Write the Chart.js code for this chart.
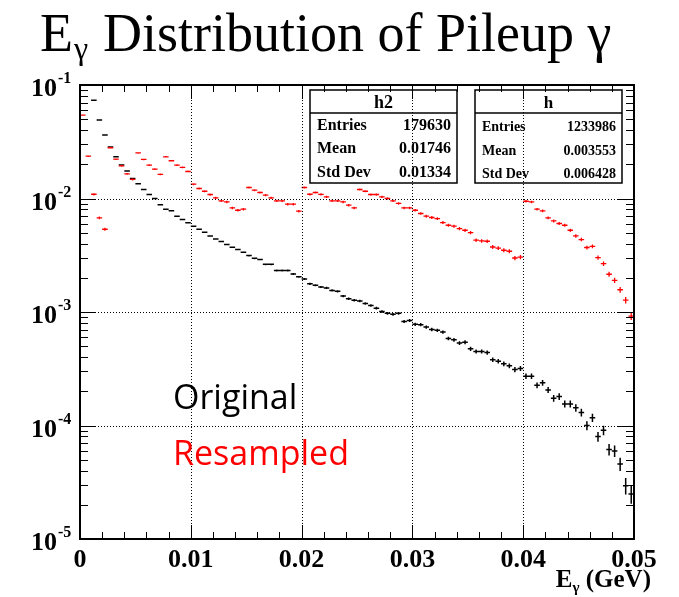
<!DOCTYPE html>
<html>
<head>
<meta charset="utf-8">
<script src="https://cdn.jsdelivr.net/npm/chart.js@4.4.0/dist/chart.umd.min.js"></script>
<style>
  html, body { margin: 0; padding: 0; background: #fff; }
</style>
</head>
<body>
<canvas id="myChart" width="679" height="597"></canvas>
<script>
// binning: 100 bins of 0.0005 GeV from 0 to 0.05
const binWidth = 0.0005;
const binEdges = Array.from({ length: 101 }, (_, i) => +(i * binWidth).toFixed(4));

// "h" - original pileup photons (first two bins run off the top of the frame)
const original = [
  0.30, 0.18, 0.0733, 0.0491, 0.0362, 0.0285, 0.0233, 0.0197, 0.0175, 0.0150,
  0.01346, 0.0120, 0.01084, 0.0100, 0.00881, 0.00805, 0.00778, 0.00698, 0.00653, 0.00611,
  0.00570, 0.00536, 0.00505, 0.00468, 0.00440, 0.00417, 0.00393, 0.00372, 0.00355, 0.00336,
  0.00314, 0.00297, 0.00290, 0.00263, 0.00263, 0.00232, 0.00232, 0.00232, 0.00216, 0.00204,
  0.00195, 0.00177, 0.00172, 0.00166, 0.00163, 0.00155, 0.00152, 0.00138, 0.00131, 0.00127,
  0.00125, 0.00119, 0.00114, 0.00108, 0.00101, 0.000973, 0.000953, 0.000973, 0.000826, 0.000843,
  0.000778, 0.000773, 0.000736, 0.000702, 0.000689, 0.000665, 0.000585, 0.000569, 0.000532, 0.000542,
  0.000474, 0.000449, 0.000449, 0.000440, 0.000380, 0.000369, 0.000350, 0.000336, 0.000311, 0.000318,
  0.000272, 0.000272, 0.000226, 0.000238, 0.000206, 0.000174, 0.000180, 0.000155, 0.000155, 0.000143,
  0.000130, 0.0000998, 0.000117, 0.0000798, 0.0000908, 0.0000615, 0.0000597, 0.0000458, 0.0000295, 0.0000249
];

// "h2" - resampled
const resampled = [
  0.0543, 0.0236, 0.0109, 0.00675, 0.00536, 0.0280, 0.0222, 0.0194, 0.01648, 0.01472,
  0.0252, 0.0221, 0.0197, 0.01815, 0.0163, 0.0233, 0.0215, 0.0197, 0.0188, 0.0173,
  0.01337, 0.01225, 0.01159, 0.01084, 0.01012, 0.00953, 0.00933, 0.00826, 0.00788, 0.00805,
  0.0125, 0.01183, 0.01130, 0.01069, 0.01012, 0.00953, 0.00953, 0.00891, 0.00891, 0.00773,
  0.0125, 0.0109, 0.0113, 0.01086, 0.01033, 0.00953, 0.00953, 0.00933, 0.00873, 0.00826,
  0.0120, 0.01159, 0.01084, 0.01084, 0.01033, 0.0100, 0.00953, 0.00904, 0.00826, 0.00826,
  0.00788, 0.00738, 0.00698, 0.00680, 0.00666, 0.00614, 0.00581, 0.00570, 0.00543, 0.00525,
  0.00501, 0.00429, 0.00423, 0.00420, 0.00374, 0.00366, 0.00350, 0.00343, 0.00299, 0.00305,
  0.00946, 0.00933, 0.00805, 0.00778, 0.00675, 0.00634, 0.00602, 0.00581, 0.00525, 0.00468,
  0.00435, 0.00370, 0.00379, 0.00301, 0.00267, 0.00215, 0.00190, 0.00157, 0.00127, 0.00092
];

// stat boxes
const statNames = ['h2', 'h'];
const statEntries = [179630, 1233986];
const statMeans = ['0.01746', '0.003553'];
const statStdDevs = ['0.01334', '0.006428'];

// axes
const xTicks = [0, 0.01, 0.02, 0.03, 0.04, 0.05];
const xTickLabels = ['0', '0.01', '0.02', '0.03', '0.04', '0.05'];
const yTickExps = [-1, -2, -3, -4, -5];

const seriesNames = ['Original', 'Resampled'];

// each bin: a horizontal bar across the bin plus a vertical error bar, gaps between
function histPoints(vals, entries) {
  const pts = [];
  vals.forEach((v, i) => {
    const lo = binEdges[i], hi = binEdges[i + 1], c = (lo + hi) / 2;
    const err = Math.sqrt(v / entries);
    pts.push({ x: lo, y: v }, { x: hi, y: v }, { x: c, y: null });
    pts.push({ x: c, y: v - err }, { x: c, y: v + err }, { x: c, y: null });
  });
  return pts;
}

const serif = '"Liberation Serif", "Times New Roman", serif';

const decorations = {
  id: 'decorations',
  afterDatasetsDraw(chart) {
    const { ctx, chartArea: a, scales: { x, y } } = chart;
    ctx.save();

    // stat boxes
    const boxes = [
      { l: 310, r: 457, t: 90, b: 183, sep: 113, head: 18, size: 16, rows: [130, 153, 176.5] },
      { l: 475, r: 622, t: 90, b: 183, sep: 113, head: 17, size: 14, rows: [131, 154.5, 177.5] }
    ];
    boxes.forEach((bx, k) => {
      ctx.fillStyle = '#fff';
      ctx.fillRect(bx.l, bx.t, bx.r - bx.l, bx.b - bx.t);
      ctx.strokeStyle = '#000';
      ctx.lineWidth = 1.5;
      ctx.strokeRect(bx.l, bx.t, bx.r - bx.l, bx.b - bx.t);
      ctx.beginPath();
      ctx.moveTo(bx.l, bx.sep); ctx.lineTo(bx.r, bx.sep);
      ctx.stroke();
      ctx.fillStyle = '#000';
      ctx.font = 'bold ' + bx.head + 'px ' + serif;
      ctx.textAlign = 'center';
      ctx.fillText(statNames[k], (bx.l + bx.r) / 2, 108);
      ctx.font = 'bold ' + bx.size + 'px ' + serif;
      const labels = ['Entries', 'Mean', 'Std Dev'];
      const vals = [String(statEntries[k]), statMeans[k], statStdDevs[k]];
      labels.forEach((lab, j) => {
        ctx.textAlign = 'left';
        ctx.fillText(lab, bx.l + 7, bx.rows[j]);
        ctx.textAlign = 'right';
        ctx.fillText(vals[j], bx.r - 6, bx.rows[j]);
      });
    });

    // dotted grid
    ctx.strokeStyle = '#000';
    ctx.lineWidth = 1;
    ctx.setLineDash([1, 2]);
    ctx.beginPath();
    xTicks.slice(1, -1).forEach(v => {
      const px = Math.round(x.getPixelForValue(v)) + 0.5;
      ctx.moveTo(px, a.top); ctx.lineTo(px, a.bottom);
    });
    yTickExps.slice(1, -1).forEach(e => {
      const py = Math.round(y.getPixelForValue(Math.pow(10, e))) + 0.5;
      ctx.moveTo(a.left, py); ctx.lineTo(a.right, py);
    });
    ctx.stroke();
    ctx.setLineDash([]);

    // ticks on all four sides
    ctx.beginPath();
    for (let i = 0; i <= 25; i++) {
      const v = i * 0.002;
      const len = i % 5 === 0 ? 14 : 7;
      const px = Math.round(x.getPixelForValue(v)) + 0.5;
      ctx.moveTo(px, a.bottom); ctx.lineTo(px, a.bottom - len);
      ctx.moveTo(px, a.top); ctx.lineTo(px, a.top + len);
    }
    for (let e = -5; e <= -1; e++) {
      for (let m = 1; m <= 9; m++) {
        const v = m * Math.pow(10, e);
        if (v > 0.1 + 1e-12) break;
        const len = m === 1 ? 16 : 8;
        const py = Math.round(y.getPixelForValue(v)) + 0.5;
        ctx.moveTo(a.left, py); ctx.lineTo(a.left + len, py);
        ctx.moveTo(a.right, py); ctx.lineTo(a.right - len, py);
      }
    }
    ctx.stroke();

    // frame
    ctx.lineWidth = 2;
    ctx.strokeRect(a.left, a.top, a.right - a.left, a.bottom - a.top);

    // x tick labels
    ctx.fillStyle = '#000';
    ctx.font = 'bold 26px ' + serif;
    ctx.textAlign = 'center';
    ctx.textBaseline = 'alphabetic';
    xTicks.forEach((v, i) => ctx.fillText(xTickLabels[i], x.getPixelForValue(v), 567));

    // y tick labels 10^n
    yTickExps.forEach(e => {
      const py = y.getPixelForValue(Math.pow(10, e));
      ctx.font = 'bold 26px ' + serif;
      ctx.textAlign = 'right';
      ctx.fillText('10', 57, py + 11);
      ctx.font = 'bold 16px ' + serif;
      ctx.textAlign = 'left';
      ctx.fillText('-' + Math.abs(e), 58, py - 2);
    });

    // x axis title  E_gamma (GeV)
    ctx.textAlign = 'left';
    ctx.font = 'bold 25px ' + serif;
    const wG = ctx.measureText(' (GeV)').width;
    const wE = ctx.measureText('E').width;
    ctx.font = 'bold 15px ' + serif;
    const wS = ctx.measureText('γ').width;
    let tx = 651 - wG - wS - wE;
    ctx.font = 'bold 25px ' + serif;
    ctx.fillText('E', tx, 587);
    ctx.font = 'bold 15px ' + serif;
    ctx.fillText('γ', tx + wE, 592);
    ctx.font = 'bold 25px ' + serif;
    ctx.fillText(' (GeV)', tx + wE + wS, 587);

    // series labels
    ctx.font = '34px "Open Sans", sans-serif';
    ctx.fillStyle = '#000';
    ctx.fillText(seriesNames[0], 173, 409);
    ctx.fillStyle = '#ff0000';
    ctx.fillText(seriesNames[1], 173, 465);

    // title
    ctx.fillStyle = '#000';
    ctx.font = '54px ' + serif;
    ctx.fillText('E', 40, 51);
    const wT = ctx.measureText('E').width;
    ctx.font = '32px ' + serif;
    ctx.fillText('γ', 40 + wT + 1, 59);
    ctx.font = '54px ' + serif;
    ctx.fillText('Distribution of Pileup γ', 103, 51);

    ctx.restore();
  }
};

new Chart(document.getElementById('myChart'), {
  type: 'line',
  data: {
    datasets: [
      {
        label: seriesNames[1],
        data: histPoints(resampled, statEntries[0]),
        borderColor: '#ff0000',
        borderWidth: 1.3,
        order: 0
      },
      {
        label: seriesNames[0],
        data: histPoints(original, statEntries[1]),
        borderColor: '#000000',
        borderWidth: 1.5,
        order: 1
      }
    ]
  },
  options: {
    responsive: false,
    animation: false,
    spanGaps: false,
    layout: { padding: { left: 80, right: 45, top: 85, bottom: 58 } },
    elements: {
      point: { radius: 0, hoverRadius: 0 },
      line: { tension: 0, borderCapStyle: 'butt' }
    },
    plugins: { legend: { display: false }, tooltip: { enabled: false }, title: { display: false } },
    scales: {
      x: { type: 'linear', min: 0, max: 0.05, display: false },
      y: { type: 'logarithmic', min: 1e-5, max: 0.1, display: false }
    }
  },
  plugins: [decorations]
});
</script>
</body>
</html>
